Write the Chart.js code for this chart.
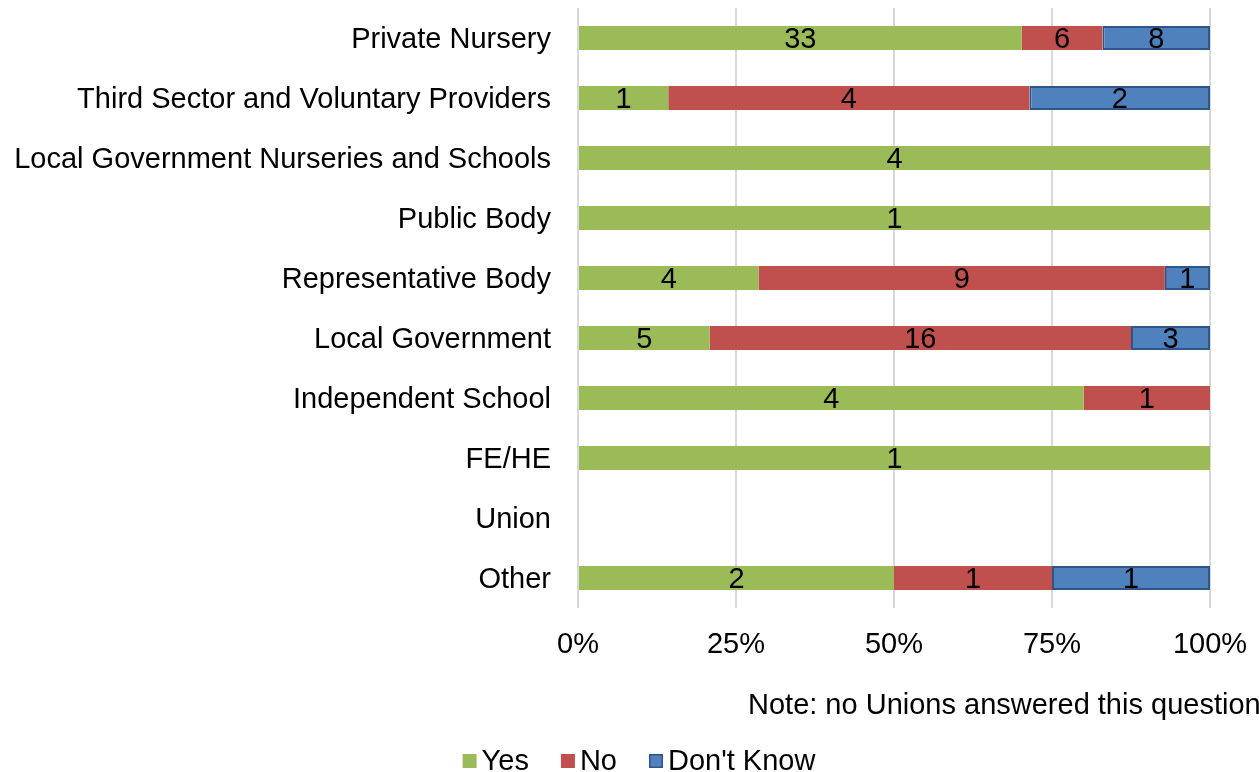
<!DOCTYPE html>
<html>
<head>
<meta charset="utf-8">
<script src="https://cdn.jsdelivr.net/npm/chart.js@4.4.1/dist/chart.umd.min.js"></script>
<style>
  html, body { margin: 0; padding: 0; background: #ffffff; }
  #wrap { width: 1259px; height: 772px; position: relative; }
</style>
</head>
<body>
<div id="wrap"><canvas id="chart"></canvas></div>
<script>
// categories and counts per answer
const categories = [
  'Private Nursery',
  'Third Sector and Voluntary Providers',
  'Local Government Nurseries and Schools',
  'Public Body',
  'Representative Body',
  'Local Government',
  'Independent School',
  'FE/HE',
  'Union',
  'Other'
];
const yesCounts = [33, 1, 4, 1, 4, 5, 4, 1, 0, 2];
const noCounts = [6, 4, 0, 0, 9, 16, 1, 0, 0, 1];
const dontKnowCounts = [8, 2, 0, 0, 1, 3, 0, 0, 0, 1];
const xTicks = [0, 25, 50, 75, 100];
const noteText = 'Note: no Unions answered this question';

const FONT = '"Liberation Sans", Arial, sans-serif';
const FS = 29;

// turn counts into share of each row
function toPercent(counts) {
  return counts.map((c, i) => {
    const total = yesCounts[i] + noCounts[i] + dontKnowCounts[i];
    return total ? c / total * 100 : 0;
  });
}

const series = [
  { label: 'Yes', counts: yesCounts, color: '#9bbb59', border: null },
  { label: 'No', counts: noCounts, color: '#c0504d', border: null },
  { label: "Don't Know", counts: dontKnowCounts, color: '#4f81bd', border: '#2f5487' }
];

// draws counts inside the bars, the note and the legend
const extras = {
  id: 'extras',
  afterDatasetsDraw(chart) {
    const ctx = chart.ctx;
    ctx.save();
    ctx.font = FS + 'px ' + FONT;
    ctx.fillStyle = '#000000';
    ctx.textAlign = 'center';
    ctx.textBaseline = 'middle';
    chart.data.datasets.forEach((ds, di) => {
      const meta = chart.getDatasetMeta(di);
      meta.data.forEach((bar, i) => {
        const n = series[di].counts[i];
        if (!n) return;
        ctx.fillText(String(n), (bar.x + bar.base) / 2, bar.y + 2);
      });
    });
    ctx.restore();
  },
  afterDraw(chart) {
    const ctx = chart.ctx;
    ctx.save();
    ctx.font = FS + 'px ' + FONT;
    ctx.fillStyle = '#000000';
    ctx.textBaseline = 'middle';
    ctx.textAlign = 'left';
    ctx.fillText(noteText, 748, 706);

    // legend
    const box = 14, gap = 5, spacing = 32;
    const widths = series.map(s => box + gap + ctx.measureText(s.label).width);
    const total = widths.reduce((a, b) => a + b, 0) + spacing * (series.length - 1);
    let x = 639 - total / 2;
    const y = 761;
    series.forEach((s, i) => {
      ctx.fillStyle = s.color;
      ctx.fillRect(x, y - box / 2, box, box);
      if (s.border) {
        ctx.strokeStyle = s.border;
        ctx.lineWidth = 1.5;
        ctx.strokeRect(x + 0.75, y - box / 2 + 0.75, box - 1.5, box - 1.5);
      }
      ctx.fillStyle = '#000000';
      ctx.fillText(s.label, x + box + gap, y + 1);
      x += widths[i] + spacing;
    });
    ctx.restore();
  }
};

const ctx = document.getElementById('chart').getContext('2d');
const chart = new Chart(ctx, {
  type: 'bar',
  data: {
    labels: categories,
    datasets: series.map(s => ({
      label: s.label,
      data: toPercent(s.counts),
      backgroundColor: s.color,
      borderColor: s.border || s.color,
      borderWidth: s.border ? 2 : 0,
      borderSkipped: false,
      barPercentage: 0.8,
      categoryPercentage: 0.5
    }))
  },
  options: {
    indexAxis: 'y',
    responsive: true,
    maintainAspectRatio: false,
    animation: false,
    layout: { padding: { top: 8, right: 49, bottom: 0, left: 0 } },
    plugins: {
      legend: { display: false },
      tooltip: { enabled: false }
    },
    scales: {
      x: {
        stacked: true,
        min: 0,
        max: 100,
        afterBuildTicks(scale) {
          scale.ticks = xTicks.map(v => ({ value: v }));
        },
        afterFit(scale) {
          scale.height = 164;
          scale.paddingTop = 0;
          scale.paddingBottom = 0;
          scale.paddingLeft = 0;
          scale.paddingRight = 0;
        },
        grid: { color: '#d9d9d9', lineWidth: 2, drawTicks: false },
        border: { display: false },
        ticks: {
          padding: 20,
          color: '#000000',
          font: { family: FONT, size: FS },
          callback: v => v + '%'
        }
      },
      y: {
        stacked: true,
        afterFit(scale) {
          scale.width = 578;
          scale.paddingTop = 0;
          scale.paddingBottom = 0;
        },
        grid: { display: false, drawTicks: false },
        border: { display: false },
        ticks: {
          padding: 27,
          labelOffset: 2,
          color: '#000000',
          font: { family: FONT, size: FS }
        }
      }
    }
  },
  plugins: [extras]
});
</script>
</body>
</html>
